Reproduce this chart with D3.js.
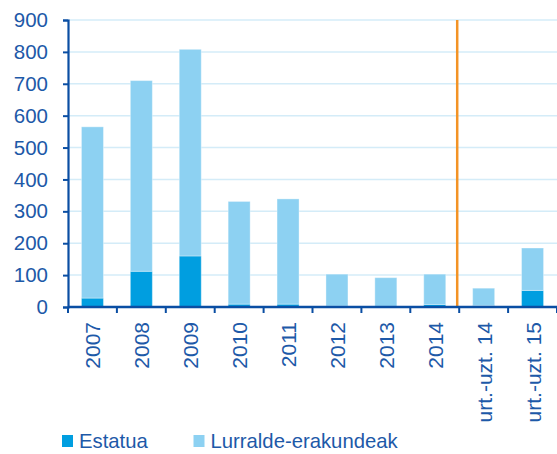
<!DOCTYPE html>
<html>
<head>
<meta charset="utf-8">
<script src="https://cdn.jsdelivr.net/npm/d3@7"></script>
<style>
  body { margin: 0; background: #fff; }
  svg { display: block; font-family: "Liberation Sans", Arial, sans-serif; }
</style>
</head>
<body>
<div id="chart"></div>
<script>
// Data
const categories = ["2007", "2008", "2009", "2010", "2011", "2012", "2013", "2014", "urt.-uzt. 14", "urt.-uzt. 15"];
const estatua = [28, 112, 160, 9, 9, 3, 2, 8, 5, 52];
const lurralde = [537, 598, 648, 322, 330, 100, 90, 95, 54, 133];
const yTicks = [0, 100, 200, 300, 400, 500, 600, 700, 800, 900];
const seriesNames = ["Estatua", "Lurralde-erakundeak"];

const colors = { estatua: "#009ee0", lurralde: "#8dd1f2", axis: "#0a4ea3", text: "#1d59a8", grid: "#d4ecf8", split: "#f39325" };

const width = 557, height = 454;
const margin = { top: 20, right: 0, bottom: 147, left: 68 };
const innerW = width - margin.left - margin.right;
const innerH = height - margin.top - margin.bottom;

const svg = d3.select("#chart").append("svg")
    .attr("width", width)
    .attr("height", height);

const g = svg.append("g")
    .attr("transform", `translate(${margin.left},${margin.top})`);

const x = d3.scaleBand()
    .domain(categories)
    .range([0, innerW])
    .paddingInner(0.55)
    .paddingOuter(0.275);

const xBoundary = d3.scaleLinear()
    .domain([0, categories.length])
    .range([0, innerW]);

const y = d3.scaleLinear()
    .domain([0, 900])
    .range([innerH, 0]);

// gridlines
g.selectAll(".grid")
    .data(yTicks.slice(1))
    .join("line")
    .attr("class", "grid")
    .attr("x1", 0)
    .attr("x2", innerW)
    .attr("y1", d => y(d))
    .attr("y2", d => y(d))
    .attr("stroke", colors.grid)
    .attr("stroke-width", 1.5);

// stacked bars
const rows = categories.map((c, i) => ({ cat: c, estatua: estatua[i], lurralde: lurralde[i] }));
const stack = d3.stack().keys(["estatua", "lurralde"])(rows);

g.selectAll(".series")
    .data(stack)
    .join("g")
    .attr("class", "series")
    .attr("fill", d => colors[d.key])
    .selectAll("rect")
    .data(d => d)
    .join("rect")
    .attr("x", d => x(d.data.cat))
    .attr("width", x.bandwidth())
    .attr("y", d => y(d[1]))
    .attr("height", d => y(d[0]) - y(d[1]))
    .attr("stroke", "rgba(255,255,255,0.35)")
    .attr("stroke-width", 1);

// split line between 2014 and the half-year figures
g.append("line")
    .attr("x1", xBoundary(8) - 2)
    .attr("x2", xBoundary(8) - 2)
    .attr("y1", y(900))
    .attr("y2", y(0))
    .attr("stroke", colors.split)
    .attr("stroke-width", 2.5);

// y axis
const yAxis = d3.axisLeft(y)
    .tickValues(yTicks)
    .tickSize(5)
    .tickPadding(15);

g.append("g")
    .attr("class", "y-axis")
    .call(yAxis)
    .call(a => a.select(".domain").attr("stroke", colors.axis).attr("stroke-width", 2.2))
    .call(a => a.selectAll(".tick line").attr("stroke", colors.axis).attr("stroke-width", 2))
    .call(a => a.selectAll("text").attr("fill", colors.text).style("font-size", "20.5px"));

// x axis: ticks on category boundaries
g.append("line")
    .attr("x1", 0)
    .attr("x2", innerW)
    .attr("y1", innerH)
    .attr("y2", innerH)
    .attr("stroke", colors.axis)
    .attr("stroke-width", 2.5);

g.selectAll(".xtick")
    .data(d3.range(categories.length + 1))
    .join("line")
    .attr("class", "xtick")
    .attr("x1", d => xBoundary(d))
    .attr("x2", d => xBoundary(d))
    .attr("y1", innerH)
    .attr("y2", innerH + 6)
    .attr("stroke", colors.axis)
    .attr("stroke-width", 2);

g.selectAll(".xlabel")
    .data(categories)
    .join("text")
    .attr("class", "xlabel")
    .attr("transform", d => `translate(${x(d) + x.bandwidth() / 2 + 8},${innerH + 15}) rotate(-90)`)
    .attr("text-anchor", "end")
    .attr("fill", colors.text)
    .style("font-size", "21px")
    .text(d => d);

// legend
const legend = svg.append("g")
    .attr("transform", "translate(62,435)");

const items = legend.selectAll("g")
    .data(seriesNames)
    .join("g")
    .attr("transform", (d, i) => `translate(${i * 131.5},0)`);

items.append("rect")
    .attr("width", 11)
    .attr("height", 12)
    .attr("fill", (d, i) => i === 0 ? colors.estatua : colors.lurralde);

items.append("text")
    .attr("x", 17)
    .attr("y", 13)
    .attr("fill", colors.text)
    .style("font-size", "20.3px")
    .text(d => d);
</script>
</body>
</html>
